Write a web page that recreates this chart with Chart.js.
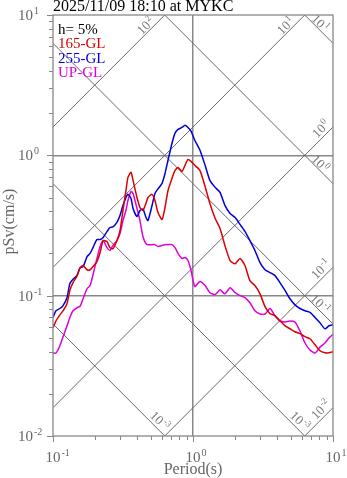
<!DOCTYPE html>
<html>
<head>
<meta charset="utf-8">
<script src="https://cdn.jsdelivr.net/npm/chart.js@4/dist/chart.umd.min.js"></script>
<style>
  body { margin: 0; background: #fff; }
  canvas { display: block; }
</style>
</head>
<body>
<canvas id="spectrum" width="347" height="478"></canvas>
<script>
// pseudo velocity response spectra, h = 5%
const periods = [0.100, 0.105, 0.112, 0.118, 0.126, 0.132, 0.139, 0.148, 0.156, 0.164,
  0.175, 0.184, 0.193, 0.206, 0.217, 0.228, 0.243, 0.255, 0.268, 0.286,
  0.301, 0.316, 0.332, 0.343, 0.361, 0.373, 0.398, 0.418, 0.439, 0.461,
  0.477, 0.510, 0.535, 0.562, 0.601, 0.631, 0.663, 0.708, 0.744, 0.781,
  0.834, 0.877, 0.921, 0.968, 1.03, 1.12, 1.22, 1.32, 1.44, 1.56,
  1.69, 1.84, 2.00, 2.17, 2.35, 2.55, 2.77, 3.01, 3.27, 3.55,
  3.85, 4.18, 4.54, 4.93, 5.35, 5.81, 6.31, 6.85, 7.44, 8.07,
  8.77, 9.36, 10.0]
const sv165 = [0.059, 0.066, 0.073, 0.078, 0.088, 0.109, 0.124, 0.137, 0.158, 0.164,
  0.153, 0.153, 0.161, 0.175, 0.203, 0.247, 0.243, 0.220, 0.216, 0.247,
  0.291, 0.405, 0.562, 0.697, 0.757, 0.663, 0.501, 0.425, 0.405, 0.454,
  0.501, 0.527, 0.477, 0.391, 0.349, 0.425, 0.562, 0.686, 0.780, 0.819,
  0.768, 0.849, 0.936, 0.906, 0.849, 0.781, 0.600, 0.454, 0.355, 0.301,
  0.228, 0.178, 0.169, 0.184, 0.164, 0.128, 0.118, 0.103, 0.0835, 0.0744,
  0.0720, 0.0663, 0.0610, 0.0581, 0.0553, 0.0536, 0.0510, 0.0493, 0.0447, 0.0405,
  0.0392, 0.0392, 0.0398]
const sv255 = [0.070, 0.078, 0.081, 0.085, 0.097, 0.122, 0.131, 0.139, 0.158, 0.161,
  0.190, 0.200, 0.220, 0.251, 0.251, 0.260, 0.286, 0.306, 0.309, 0.333,
  0.372, 0.439, 0.501, 0.527, 0.493, 0.418, 0.366, 0.405, 0.415, 0.362,
  0.343, 0.439, 0.535, 0.577, 0.631, 0.743, 0.922, 1.22, 1.44, 1.53,
  1.58, 1.64, 1.58, 1.49, 1.28, 1.09, 0.849, 0.663, 0.591, 0.544,
  0.440, 0.385, 0.360, 0.321, 0.287, 0.247, 0.210, 0.172, 0.153, 0.146,
  0.139, 0.124, 0.109, 0.095, 0.086, 0.081, 0.078, 0.076, 0.070, 0.064,
  0.058, 0.061, 0.062]
const svUP = [0.039, 0.039, 0.044, 0.051, 0.061, 0.070, 0.078, 0.082, 0.084, 0.095,
  0.112, 0.118, 0.141, 0.184, 0.224, 0.247, 0.220, 0.210, 0.228, 0.247,
  0.277, 0.343, 0.405, 0.477, 0.553, 0.535, 0.418, 0.343, 0.264, 0.235,
  0.231, 0.231, 0.231, 0.224, 0.228, 0.231, 0.231, 0.231, 0.220, 0.200,
  0.184, 0.187, 0.178, 0.151, 0.116, 0.126, 0.118, 0.105, 0.102, 0.110,
  0.103, 0.114, 0.105, 0.100, 0.097, 0.089, 0.078, 0.074, 0.074, 0.081,
  0.072, 0.066, 0.065, 0.066, 0.065, 0.056, 0.046, 0.041, 0.039, 0.043,
  0.046, 0.050, 0.053]

const seriesNames = ['165-GL', '255-GL', 'UP-GL']
const seriesColors = ['#dd0000', '#0000dd', '#dd00dd']
const seriesValues = [sv165, sv255, svUP]

const xDecades = [0.1, 1, 10]
const xExps = ['-1', '0', '1']
const yDecades = [0.01, 0.1, 1, 10]
const yExps = ['-2', '-1', '0', '1']

// tripartite guide lines: displacement (cm) and acceleration (cm/s2)
const dispLevels = [0.001, 0.01, 0.1, 1, 10]
const dispExps = ['-3', '-3', '-1', '0', '1']
const accLevels = [0.01, 0.1, 1, 10, 100]
const accExps = ['-2', '-1', '0', '1', '2']

const titleText = '2025/11/09 18:10 at MYKC'
const dampingText = 'h= 5%'
const xTitle = 'Period(s)'
const yTitle = 'pSv(cm/s)'

const GRAY = '#888'
const TEXT = '#666'
const SERIF = '"Liberation Serif", "DejaVu Serif", serif'

// 1..9 x 10^n between the decades
const withMinors = decades => {
    const out = []
    decades.forEach((d, i) => {
        if (i === decades.length - 1) { out.push(d); return }
        for (let k = 1; k < 10; k++) out.push(+(k * d).toPrecision(3))
    })
    return out
}
const xTicks = withMinors(xDecades)
const yTicks = withMinors(yDecades)

const isDecade = (v, decades) => decades.some(d => Math.abs(v / d - 1) < 1e-6)

// "10" with a raised exponent
const drawPower = (ctx, x, y, exp, size, anchor) => {
    const sup = Math.round(size * 0.68)
    ctx.font = size + 'px ' + SERIF
    const w1 = ctx.measureText('10').width
    ctx.font = sup + 'px ' + SERIF
    const w2 = ctx.measureText(exp).width
    let left = x
    if (anchor === 'base') left = x - w1 / 2
    if (anchor === 'center') left = x - (w1 + w2 + 1) / 2
    ctx.textAlign = 'left'
    ctx.textBaseline = 'alphabetic'
    ctx.font = size + 'px ' + SERIF
    ctx.fillText('10', left, y)
    ctx.font = sup + 'px ' + SERIF
    ctx.fillText(exp, left + w1 + 1, y - size * 0.4)
}

const frame = {
    id: 'frame',
    beforeDatasetsDraw(chart) {
        const { ctx, chartArea: a, scales: { x, y } } = chart
        const tMin = x.min, tMax = x.max, vMin = y.min, vMax = y.max
        const px = (t, v) => [x.getPixelForValue(t), y.getPixelForValue(v)]

        ctx.save()
        ctx.beginPath()
        ctx.rect(a.left, a.top, a.right - a.left, a.bottom - a.top)
        ctx.clip()
        ctx.strokeStyle = '#6a6a6a'
        ctx.lineWidth = 1
        dispLevels.forEach(sd => {
            const p1 = px(tMin, 2 * Math.PI * sd / tMin)
            const p2 = px(tMax, 2 * Math.PI * sd / tMax)
            ctx.beginPath(); ctx.moveTo(p1[0], p1[1]); ctx.lineTo(p2[0], p2[1]); ctx.stroke()
        })
        accLevels.forEach(sa => {
            const p1 = px(tMin, sa * tMin / (2 * Math.PI))
            const p2 = px(tMax, sa * tMax / (2 * Math.PI))
            ctx.beginPath(); ctx.moveTo(p1[0], p1[1]); ctx.lineTo(p2[0], p2[1]); ctx.stroke()
        })
        ctx.restore()

        // labels near where each line leaves the frame
        ctx.save()
        ctx.fillStyle = '#777'
        const label = (cx, cy, rot, exp) => {
            ctx.save()
            ctx.translate(cx, cy)
            ctx.rotate(rot)
            drawPower(ctx, 0, 4, exp, 13, 'center')
            ctx.restore()
        }
        dispLevels.forEach((sd, i) => {
            const vEnd = 2 * Math.PI * sd / tMax
            if (vEnd >= vMin) {
                const [ex, ey] = px(tMax, vEnd)
                label(ex - 13, ey - 20, Math.PI / 4, dispExps[i])
            } else {
                const [ex, ey] = px(2 * Math.PI * sd / vMin, vMin)
                label(ex - 5, ey - 15, Math.PI / 4, dispExps[i])
            }
        })
        accLevels.forEach((sa, i) => {
            const vEnd = sa * tMax / (2 * Math.PI)
            if (vEnd <= vMax) {
                const [ex, ey] = px(tMax, vEnd)
                label(ex - 12, ey + 2, -Math.PI / 4, accExps[i])
            } else {
                const [ex, ey] = px(2 * Math.PI * vMax / sa, vMax)
                label(ex - 19, ey + 11, -Math.PI / 4, accExps[i])
            }
        })
        ctx.restore()
    },
    afterDatasetsDraw(chart) {
        const { ctx, chartArea: a, scales: { x, y } } = chart
        ctx.save()
        ctx.strokeStyle = GRAY
        ctx.lineWidth = 1.3
        ctx.strokeRect(a.left, a.top, a.right - a.left, a.bottom - a.top)

        ctx.lineWidth = 1
        yTicks.forEach(v => {
            const py = Math.round(y.getPixelForValue(v)) + 0.5
            const len = isDecade(v, yDecades) ? 6 : 4
            ctx.beginPath(); ctx.moveTo(a.left - len, py); ctx.lineTo(a.left, py); ctx.stroke()
        })
        xTicks.forEach(v => {
            const pxv = Math.round(x.getPixelForValue(v)) + 0.5
            const len = isDecade(v, xDecades) ? 6 : 4
            ctx.beginPath(); ctx.moveTo(pxv, a.bottom); ctx.lineTo(pxv, a.bottom + len); ctx.stroke()
        })

        ctx.fillStyle = TEXT
        yDecades.forEach((v, i) => drawPower(ctx, 18, y.getPixelForValue(v) + 5, yExps[i], 15, 'left'))
        xDecades.forEach((v, i) => drawPower(ctx, x.getPixelForValue(v), a.bottom + 26, xExps[i], 15, 'base'))

        ctx.font = '16px ' + SERIF
        ctx.textAlign = 'center'
        ctx.textBaseline = 'alphabetic'
        ctx.fillText(xTitle, (a.left + a.right) / 2, 474)
        ctx.save()
        ctx.translate(14, (a.top + a.bottom) / 2 - 4)
        ctx.rotate(-Math.PI / 2)
        ctx.fillText(yTitle, 0, 0)
        ctx.restore()

        ctx.textAlign = 'left'
        ctx.fillStyle = '#000'
        ctx.fillText(titleText, a.left, 11)

        ctx.font = '15px ' + SERIF
        ctx.fillText(dampingText, a.left + 5, a.top + 19)
        seriesNames.forEach((name, i) => {
            ctx.fillStyle = seriesColors[i]
            ctx.fillText(name, a.left + 5, a.top + 33 + i * 14.5)
        })
        ctx.restore()
    }
}

const gridColor = decades => c => {
    const v = c.tick && c.tick.value
    if (v === undefined) return 'rgba(0,0,0,0)'
    const inner = decades.slice(1, -1)
    return isDecade(v, inner) ? GRAY : 'rgba(0,0,0,0)'
}

new Chart(document.querySelector('#spectrum').getContext('2d'), {
    type: 'line',
    data: {
        datasets: seriesNames.map((name, i) => ({
            label: name,
            data: seriesValues[i].map((v, k) => ({ x: periods[k], y: v })),
            borderColor: seriesColors[i],
            borderWidth: 1.5,
            pointRadius: 0,
            tension: 0.2,
            fill: false
        }))
    },
    options: {
        responsive: false,
        animation: false,
        layout: { padding: { left: 53, right: 14, top: 15, bottom: 42 } },
        plugins: { legend: { display: false }, tooltip: { enabled: false } },
        scales: {
            x: {
                type: 'logarithmic', min: 0.1, max: 10,
                afterBuildTicks: s => { s.ticks = xTicks.map(v => ({ value: v })) },
                ticks: { display: false },
                grid: { color: gridColor(xDecades), lineWidth: 1.5, drawTicks: false },
                border: { display: false }
            },
            y: {
                type: 'logarithmic', min: 0.01, max: 10,
                afterBuildTicks: s => { s.ticks = yTicks.map(v => ({ value: v })) },
                ticks: { display: false },
                grid: { color: gridColor(yDecades), lineWidth: 1.5, drawTicks: false },
                border: { display: false }
            }
        }
    },
    plugins: [frame]
})
</script>
</body>
</html>
